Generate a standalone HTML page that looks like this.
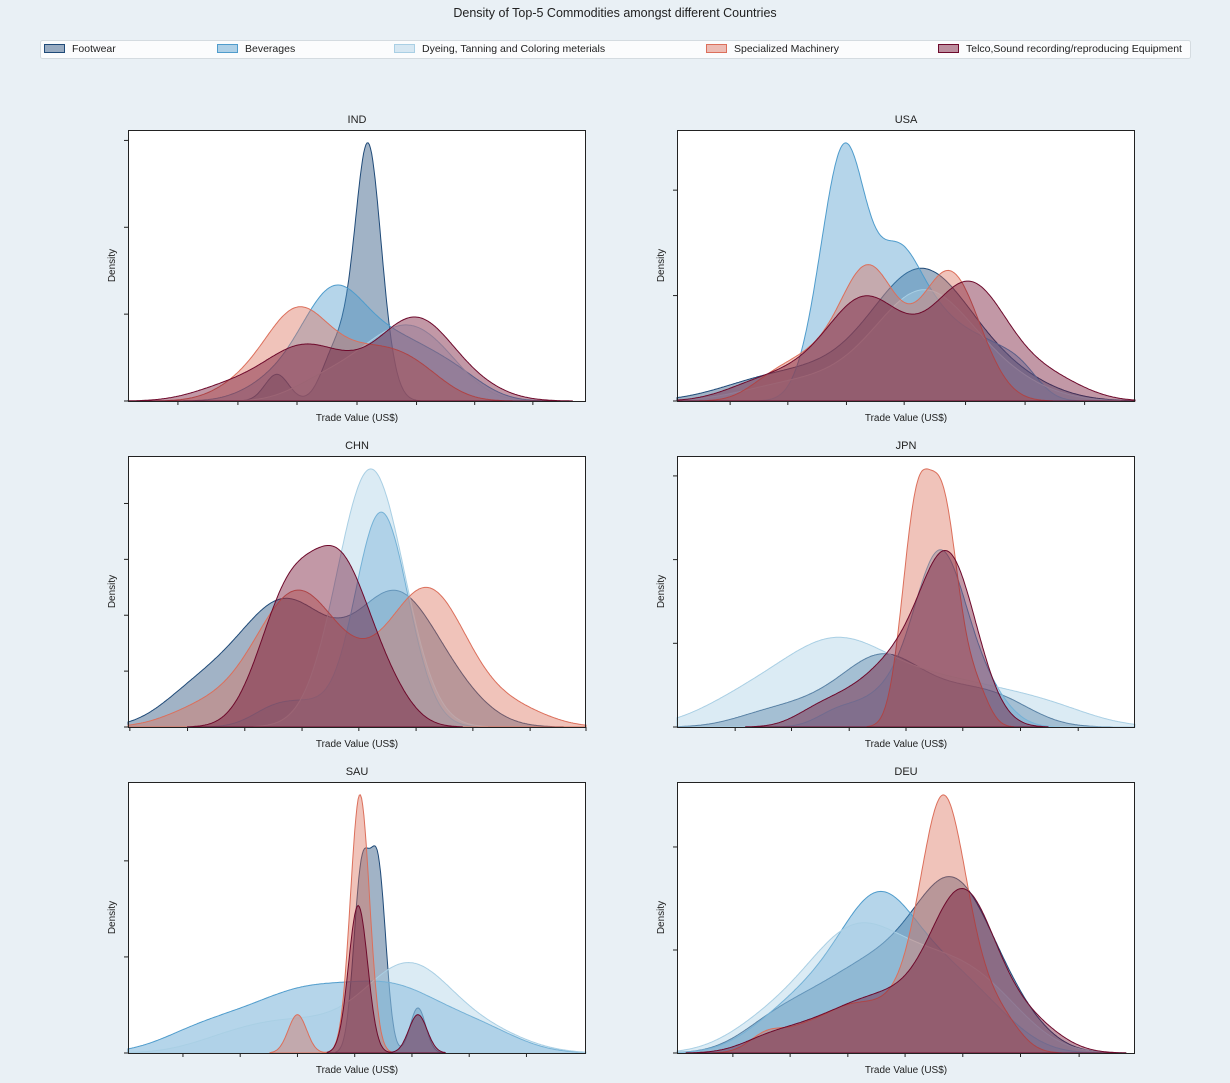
<!DOCTYPE html>
<html><head><meta charset="utf-8"><style>
body{margin:0;background:#e9f0f5;font-family:"Liberation Sans",sans-serif;}
#wrap{position:relative;width:1230px;height:1083px;overflow:hidden;background:#e9f0f5}
</style></head><body>
<div id="wrap">
<svg id="chart" width="1230" height="1083" xmlns="http://www.w3.org/2000/svg"></svg>
</div>
<script>
const seriesNames = ["Footwear","Beverages","Dyeing, Tanning and Coloring meterials","Specialized Machinery","Telco,Sound recording/reproducing Equipment"];
const seriesColors = ["#1f4a78","#4f9ccc","#a9cfe4","#dc6f5b","#6e0a2c"];
const countries = ["IND","USA","CHN","JPN","SAU","DEU"];
const bandwidths = {
 IND:[2.6,6,6,6,7], USA:[9,4,9,5,7], CHN:[7,5,6.5,7,5],
 JPN:[7,4.5,9,2.5,5], SAU:[1.7,8,8,2,2], DEU:[7,7,8,4,6]
};
const samplesIND = [
 [32.5,44,46.5,49,51.2,52.4,52.4,52.4,52.4,52.4,52.4,52.4,53.6,56],
 [30,36,40,41,43,44,45,45,46,47,49,50,53,56,58,60,63,66,70,74],
 [40,46,50,54,56,58,60,62,64,66,68,72],
 [24,30,33,35,36,37,38,39,40,43,47,50,53,56,59,62,66],
 [20,28,34,36,38,40,42,46,52,56,60,61,62,63,64,65,66,70,76]
];
const samplesUSA = [
 [14,22,28,34,40,44,46,48,50,52,53,54,55,56,58,60,62,66,70,76,50,53,56],
 [30,32,33,34,35,36,36,36.7,37,37,38,38,39,40,42,44,46,47,48,49,50,51,53,55,57,59,62,65,68,72,76],
 [20,30,38,44,48,50,52,53,54,56,58,60,64,68,74,50,54,57],
 [20,26,30,34,37,39,40,41,42,43,44,45,48,52,55,57,58,59,60,61,62,64,67],
 [16,24,30,34,38,39,40,41,42,43,44,48,52,56,60,61,62,63,64,65,66,67,68,72,78,84]
];
const samplesCHN = [
 [12,20,26,30,33,35,37,40,44,48,52,55,57,59,61,64,68,74,14,22,27,31,34,36,41,49,56,58,60,62,69],
 [32,40,50,52,53,54,54,55,55,55,56,56,57,58,60,62],
 [47,48,49,50,50,51,51,52,52,53,53,53,54,54,55,55,56,56,57,58,59],
 [14,22,28,32,35,37,38,40,42,46,50,54,58,62,64,66,67,68,70,72,78,86,30,34,36,38,44,60,63,65,69],
 [28,31,33,34,35,36,37,38,40,42,43,44,45,46,47,48,49,50,52,55,58]
];
const samplesJPN = [
 [18,26,32,36,40,42,44,45,46,48,50,54,58,62,66,70,74],
 [35,42,47,50,52,54,55,56,56,57,57,58,58,59,60,61,62,64,66,70],
 [10,18,24,28,32,35,37,40,44,50,56,62,70,80,12,20,26,30,33,36,38,42,47,53,60,66,75,85],
 [49,50,51,52,52,53,53,53,54,55,56,57,57,58,58,59,59,60,61,63,66],
 [30,36,40,44,46,48,50,52,54,55,56,57,58,58,59,59,60,60,61,62,63,64,66]
];
const samplesSAU = [
 [50.5,51,51,51.5,54.3,54.6,54.6,55,63.3],
 [12,18,22,28,31,35,36,40,42,44,48,50,54,56,58,60,62,66,70,76,80],
 [20,28,33,38,44,50,55,58,60,62,64,66,70,76,82,57,61,65],
 [37,49.8,50,50.5,50.7,51,51,51.5],
 [49.5,50,50.5,51,63.3]
];
const samplesDEU = [
 [18,26,32,38,42,46,50,54,56,58,60,61,62,63,64,66,70,76,22,30,36,40,44,48,52,55,57,59,61,63,68,73],
 [18,26,32,36,39,41,43,44,45,46,47,49,52,56,60,64,68,72,24,30,35,40,43,45,48,54,58,62],
 [16,24,30,34,37,39,41,44,48,52,56,60,64,68,74,20,28,33,36,38,40,43,46,50,54,58,62,66,71],
 [20,28,34,38,42,46,50,52,54,55,56,57,57,58,58,58,59,59,60,61,62,63,65,68,72],
 [20,28,34,38,42,45,48,52,55,57,59,60,61,62,62,63,63,64,65,66,68,71,75,80]
];
const xTicksIND = [10.9,24,36.9,50,63,75.7,88.4];
const xTicksUSA = [11.6,24.2,37,49.6,63,76,89];
const xTicksCHN = [0.4,13,25.5,38,50.4,62.9,75.3,87.8,100];
const xTicksJPN = [12.7,25,37.6,50,62.4,75,87.6];
const xTicksSAU = [12,24.5,37,49.5,62,74.5,87];
const xTicksDEU = [12.2,24.7,37.3,49.8,62.4,75,87.8];

const SAMPLES = {IND:samplesIND,USA:samplesUSA,CHN:samplesCHN,JPN:samplesJPN,SAU:samplesSAU,DEU:samplesDEU};
const XTICKS = {IND:xTicksIND,USA:xTicksUSA,CHN:xTicksCHN,JPN:xTicksJPN,SAU:xTicksSAU,DEU:xTicksDEU};

const NS="http://www.w3.org/2000/svg";
const svg=document.getElementById('chart');
function mk(tag,attrs,parent){const e=document.createElementNS(NS,tag);for(const k in attrs)e.setAttribute(k,attrs[k]);(parent||svg).appendChild(e);return e;}

let t=mk('text',{x:615,y:17,'text-anchor':'middle','font-size':12.5,fill:'#222'});


t.textContent="Density of Top-5 Commodities amongst different Countries";

const lg=mk('g',{});


mk('rect',{x:40.5,y:40.5,width:1150,height:18,rx:2,fill:'#fbfcfd',stroke:'#d4dbe0'},lg);
const legX=[44,217,394,706,938];
seriesNames.forEach((n,i)=>{
  const g=mk('g',{},lg);
  
  
  mk('rect',{x:legX[i]+0.5,y:44.5,width:20,height:8,fill:seriesColors[i],'fill-opacity':0.45,stroke:seriesColors[i]},g);
  const tx=mk('text',{x:legX[i]+28,y:52,'font-size':10.5,fill:'#222'},g);
  tx.textContent=n;
});

const panels=[{c:'IND',l:128,t:130},{c:'USA',l:677,t:130},{c:'CHN',l:128,t:456},{c:'JPN',l:677,t:456},{c:'SAU',l:128,t:782},{c:'DEU',l:677,t:782}];
const PW=458, PH=271;
function kde(samples,h,x){let s=0;for(const v of samples){const d=(x-v)/h;s+=Math.exp(-0.5*d*d);}return s/(h*Math.sqrt(2*Math.PI));}

panels.forEach(p=>{
  const g=mk('g',{});
  
  
  mk('rect',{x:p.l,y:p.t,width:PW,height:PH,fill:'#fff'},g);
  const sm=SAMPLES[p.c], bw=bandwidths[p.c];
  const curves=sm.map((s,i)=>{
    const h=bw[i];const lo=Math.max(0,Math.min(...s)-3*h), hi=Math.min(100,Math.max(...s)+3*h);
    const pts=[];for(let x=lo;x<=hi+1e-9;x+=0.25)pts.push([x,kde(s,h,x)]);return pts;});
  let ymax=0;curves.forEach(c=>c.forEach(q=>{if(q[1]>ymax)ymax=q[1];}));
  const ylim=ymax*1.05;
  const X=u=>p.l+u/100*PW, Y=d=>p.t+PH-d/ylim*PH;
  curves.forEach((c,i)=>{
    let d='M'+X(c[0][0]).toFixed(1)+','+Y(0).toFixed(1);
    c.forEach(q=>{d+='L'+X(q[0]).toFixed(1)+','+Y(q[1]).toFixed(1);});
    d+='L'+X(c[c.length-1][0]).toFixed(1)+','+Y(0).toFixed(1)+'Z';
    const a=mk('path',{d:d,fill:seriesColors[i],'fill-opacity':0.42,stroke:seriesColors[i],'stroke-width':1},g);
    
    
  });
  mk('rect',{x:p.l+0.5,y:p.t+0.5,width:PW-1,height:PH,fill:'none',stroke:'#222','stroke-width':1},g);
  XTICKS[p.c].forEach(u=>{mk('line',{x1:X(u),x2:X(u),y1:p.t+PH,y2:p.t+PH+4,stroke:'#222'},g);});
  const raw=ylim/5, mag=Math.pow(10,Math.floor(Math.log10(raw)));let step=mag;
  for(const m of [1,2,2.5,5,10]){if(m*mag>=raw){step=m*mag;break;}}
  for(let v=0;v<=ylim;v+=step){mk('line',{x1:p.l-4,x2:p.l,y1:Y(v),y2:Y(v),stroke:'#222'},g);}
  const tt=mk('text',{x:p.l+PW/2,y:p.t-7,'text-anchor':'middle','font-size':11,fill:'#222'},g);
  
  
  tt.textContent=p.c;
  const xl=mk('text',{x:p.l+PW/2,y:p.t+PH+20,'text-anchor':'middle','font-size':10,fill:'#222'},g);
  
  
  xl.textContent="Trade Value (US$)";
  const yl=mk('text',{x:0,y:0,'text-anchor':'middle','font-size':10,fill:'#222',transform:`translate(${p.l-13},${p.t+PH/2}) rotate(-90)`},g);
  
  
  yl.textContent="Density";
});
</script>
</body></html>
